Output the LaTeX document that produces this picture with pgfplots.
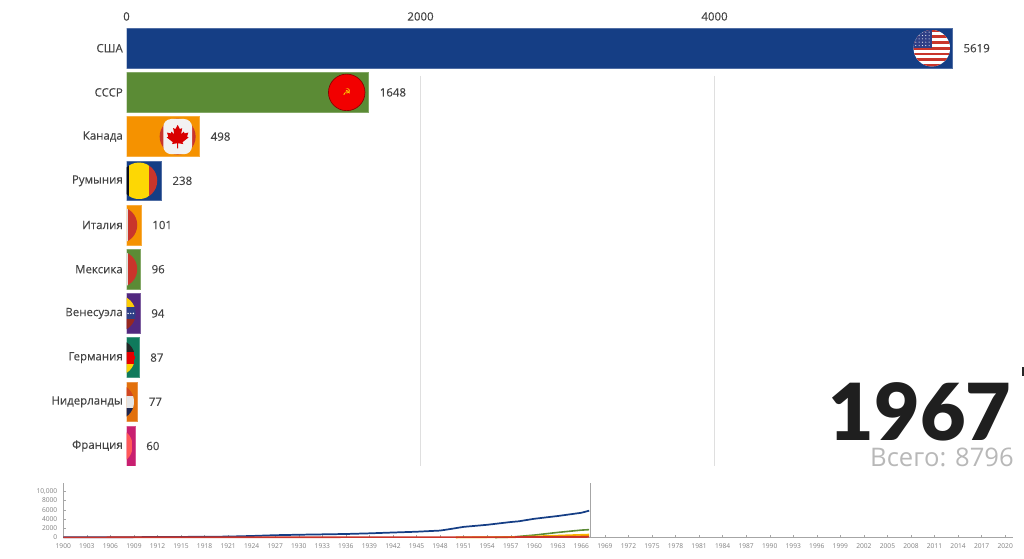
\documentclass[border=0pt]{standalone}
\usepackage{fontspec}
\usepackage{pgfplots}
\pgfplotsset{compat=1.18}
\setmainfont{Open Sans}
\newfontfamily\labelfont{Open Sans}[FakeBold=0.25]
\newfontfamily\yearfont{Lato Black}
\newfontfamily\symfont{DejaVu Sans}

\definecolor{barblue}{HTML}{153E85}
\definecolor{bargreen}{HTML}{5B8B35}
\definecolor{barorange}{HTML}{F59200}
\definecolor{barpurple}{HTML}{52287F}
\definecolor{barteal}{HTML}{0F7A5C}
\definecolor{bardeep}{HTML}{E2700C}
\definecolor{barpink}{HTML}{C81F70}
\definecolor{labelgray}{HTML}{444444}
\definecolor{flagred}{HTML}{C9352B}
\definecolor{flagnavy}{HTML}{2F3F86}

\newsavebox\usflag
\newsavebox\suflag
\newsavebox\caflag
\newsavebox\roflag
\newsavebox\itflag
\newsavebox\veflag
\newsavebox\deflag
\newsavebox\nlflag
\newsavebox\frflag

% three stripes in a disc, optional arg = half width of the middle one
\newcommand\vflag[4][4.57pt]{\tikz{
  \clip (0,0) circle (13.7pt);
  \fill[#2] (-14pt,-14pt) rectangle (-#1,14pt);
  \fill[#3] (-#1,-14pt) rectangle (#1,14pt);
  \fill[#4] (#1,-14pt) rectangle (14pt,14pt);}}
\newcommand\hflag[4][]{\tikz{
  \clip (0,0) circle (13.7pt);
  \fill[#2] (-14pt,4.57pt) rectangle (14pt,14pt);
  \fill[#3] (-14pt,-4.57pt) rectangle (14pt,4.57pt);
  \fill[#4] (-14pt,-14pt) rectangle (14pt,-4.57pt);
  #1}}

\pgfplotsset{
  onebar/.style={xbar, bar shift=0pt, bar width=0.9, fill=#1, draw=#1!75!white, line width=0.5pt},
}

\begin{document}%
\sbox\usflag{\tikz{
  \clip (0,0) circle (13.7pt);
  \fill[white] (-14pt,-14pt) rectangle (14pt,14pt);
  \foreach \i in {0,2,...,12}
    \fill[flagred] (-14pt,{-14pt+\i*2.154pt}) rectangle (14pt,{-14pt+(\i+1)*2.154pt});
  \fill[flagnavy] (-14pt,0pt) rectangle (0pt,14pt);
  \foreach \a in {-12,-9.5,...,-1} \foreach \b in {2,4.5,...,13}
    \fill[white!85!flagnavy] (\a pt,\b pt) circle (0.45pt);}}%
\sbox\suflag{\tikz{
  \fill[red!95!black,draw=red!55!black,line width=0.5pt] (0,0) circle (13.7pt);
  \node[inner sep=0pt,text=yellow!85!orange] at (0,0) {\symfont\fontsize{7}{7}\selectfont ☭};}}%
\sbox\caflag{\tikz{
  \fill[flagred] (0,0) circle (13.5pt);
  \fill[white!95!black,rounded corners=6pt] (-10.8pt,-13.2pt) rectangle (10.8pt,13.2pt);
  \fill[red!85!black] (0pt,8.8pt) -- (1.7pt,5.6pt) -- (3.4pt,6.4pt) -- (2.6pt,1.8pt)
    -- (4.6pt,3.8pt) -- (5.2pt,2.4pt) -- (8pt,3pt) -- (7pt,0pt) -- (8.2pt,-0.6pt)
    -- (3.6pt,-4.2pt) -- (4.2pt,-5.6pt) -- (0.4pt,-5pt) -- (0.4pt,-8.8pt) -- (-0.4pt,-8.8pt)
    -- (-0.4pt,-5pt) -- (-4.2pt,-5.6pt) -- (-3.6pt,-4.2pt) -- (-8.2pt,-0.6pt) -- (-7pt,0pt)
    -- (-8pt,3pt) -- (-5.2pt,2.4pt) -- (-4.6pt,3.8pt) -- (-2.6pt,1.8pt) -- (-3.4pt,6.4pt)
    -- (-1.7pt,5.6pt) -- cycle;}}%
\sbox\roflag{\vflag[7.5pt]{black!80!flagnavy}{yellow!75!orange}{flagred}}%
\sbox\itflag{\vflag[6.75pt]{green!40!black}{white!88!black}{flagred}}%
\sbox\veflag{\hflag[{\foreach \a in {8,10,12} \fill[white] (\a pt,0pt) circle (0.6pt);}]{yellow!65!orange}{flagnavy}{flagred!75!black}}%
\sbox\deflag{\hflag{black!85}{red!90!black}{yellow!70!orange}}%
\sbox\nlflag{\hflag{flagred!70!bardeep}{white!90!black}{flagnavy!60!black}}%
\sbox\frflag{\vflag{flagnavy}{white!90!black}{red!65!white}}%
\begin{tikzpicture}
\useasboundingbox (0pt,0pt) rectangle (768pt,-419.25pt);

% bars
\begin{axis}[
  at={(94.875pt,-21.225pt)}, anchor=north west,
  scale only axis, width=650.5pt, height=328.2pt,
  xmin=0, xmax=5900, ymin=-0.45, ymax=9.45,
  y dir=reverse,
  axis line style={draw=none},
  major tick length=0pt,
  xtick={0,2000,4000},
  xticklabel pos=upper,
  ytick={0,1,...,9},
  yticklabels={США,СССР,Канада,Румыния,Италия,Мексика,Венесуэла,Германия,Нидерланды,Франция},
  /pgf/number format/assume math mode=true,
  /pgf/number format/1000 sep={},
  tick label style={font=\labelfont\fontsize{8.6}{11}\selectfont, text=labelgray},
  xticklabel style={yshift=2.2pt},
  yticklabel style={inner sep=0pt, xshift=-2.6pt},
  point meta=x,
  nodes near coords,
  nodes near coords style={font=\labelfont\fontsize{8.6}{11}\selectfont, text=labelgray, anchor=west, inner sep=0pt, xshift=8pt,
    /pgf/number format/fixed, /pgf/number format/precision=0},
]
\addplot[gray!25, line width=0.8pt, sharp plot, nodes near coords={}] coordinates {(2000,0.62) (2000,9.45)};
\addplot[gray!25, line width=0.8pt, sharp plot, nodes near coords={}] coordinates {(4000,0.62) (4000,9.45)};
\addplot[onebar=barblue] coordinates {(5619,0)};
\addplot[onebar=bargreen] coordinates {(1648,1)};
\addplot[onebar=barorange] coordinates {(498,2)};
\addplot[onebar=barblue] coordinates {(238,3)};
\addplot[onebar=barorange] coordinates {(101,4)};
\addplot[onebar=bargreen] coordinates {(96,5)};
\addplot[onebar=barpurple] coordinates {(94,6)};
\addplot[onebar=barteal] coordinates {(87,7)};
\addplot[onebar=bardeep] coordinates {(77,8)};
\addplot[onebar=barpink] coordinates {(60,9)};
\node[inner sep=0pt] at (axis cs:5478,0) {\usebox\usflag};
\node[inner sep=0pt] at (axis cs:1498,1) {\usebox\suflag};
\node[inner sep=0pt] at (axis cs:348,2) {\usebox\caflag};
\node[inner sep=0pt] at (axis cs:85,3) {\usebox\roflag};
\node[inner sep=0pt] at (axis cs:-51,4) {\usebox\itflag};
\node[inner sep=0pt] at (axis cs:-51,5) {\usebox\itflag};
\node[inner sep=0pt] at (axis cs:-62,6) {\usebox\veflag};
\node[inner sep=0pt] at (axis cs:-67,7) {\usebox\deflag};
\node[inner sep=0pt] at (axis cs:-73,8) {\usebox\nlflag};
\node[inner sep=0pt] at (axis cs:-82,9) {\usebox\frflag};
\end{axis}

% timeline
\begin{axis}[
  at={(47.475pt,-403.125pt)}, anchor=south west,
  scale only axis, width=712.3pt, height=40.9pt,
  xmin=1900, xmax=2021, ymin=0, ymax=11800,
  axis x line*=bottom, axis y line*=left,
  axis line style={-, draw=gray!70, line width=0.4pt},
  tick style={draw=gray!70, line width=0.3pt},
  major tick length=2.2pt,
  minor tick length=0.8pt,
  xtick={1900,1903,...,2020},
  minor x tick num=2,
  ytick={0,2000,4000,6000,8000,10000},
  yticklabels={0,2000,4000,6000,8000,{10,000}},
  scaled y ticks=false,
  /pgf/number format/assume math mode=true,
  /pgf/number format/1000 sep={},
  tick label style={font=\fontsize{5}{5.5}\selectfont, text=gray},
  xticklabel style={yshift=-1pt},
  yticklabel style={xshift=-1pt},
  clip=false,
]
\addplot[gray!70, line width=0.5pt] coordinates {(1967.1,0) (1967.1,11800)};
\addplot[barblue, line width=1.3pt] coordinates {
  (1900,50) (1912,90) (1921,200) (1924,330) (1927,500) (1930,600) (1933,680) (1936,760)
  (1939,900) (1942,1080) (1945,1250) (1948,1500) (1949,1750) (1951,2300) (1954,2750)
  (1957,3350) (1958,3500) (1960,4050) (1963,4650) (1966,5350) (1967,5800)};
\addplot[bargreen, line width=1.2pt] coordinates {
  (1955,0) (1957,80) (1960,520) (1963,1100) (1966,1600) (1967,1700)};
\addplot[barorange!70!yellow, line width=1.2pt] coordinates {
  (1950,20) (1957,100) (1960,250) (1963,420) (1967,650)};
\addplot[barorange, line width=1.2pt] coordinates {
  (1950,10) (1957,50) (1960,120) (1963,220) (1967,350)};
\addplot[flagred, line width=1.2pt] coordinates {
  (1900,40) (1930,60) (1950,80) (1967,120)};
\end{axis}

\node[anchor=base east, inner sep=0pt, text=black!88] at (758.8pt,-330pt) {\yearfont\fontsize{59}{59}\selectfont 1967};
\node[anchor=base east, inner sep=0pt, text=black!28] at (760.5pt,-349.5pt) {\fontsize{19.2}{19.2}\selectfont Всего: 8796};
\fill[black!85] (766.5pt,-275.5pt) rectangle (768pt,-282pt);
\end{tikzpicture}%
\end{document}
